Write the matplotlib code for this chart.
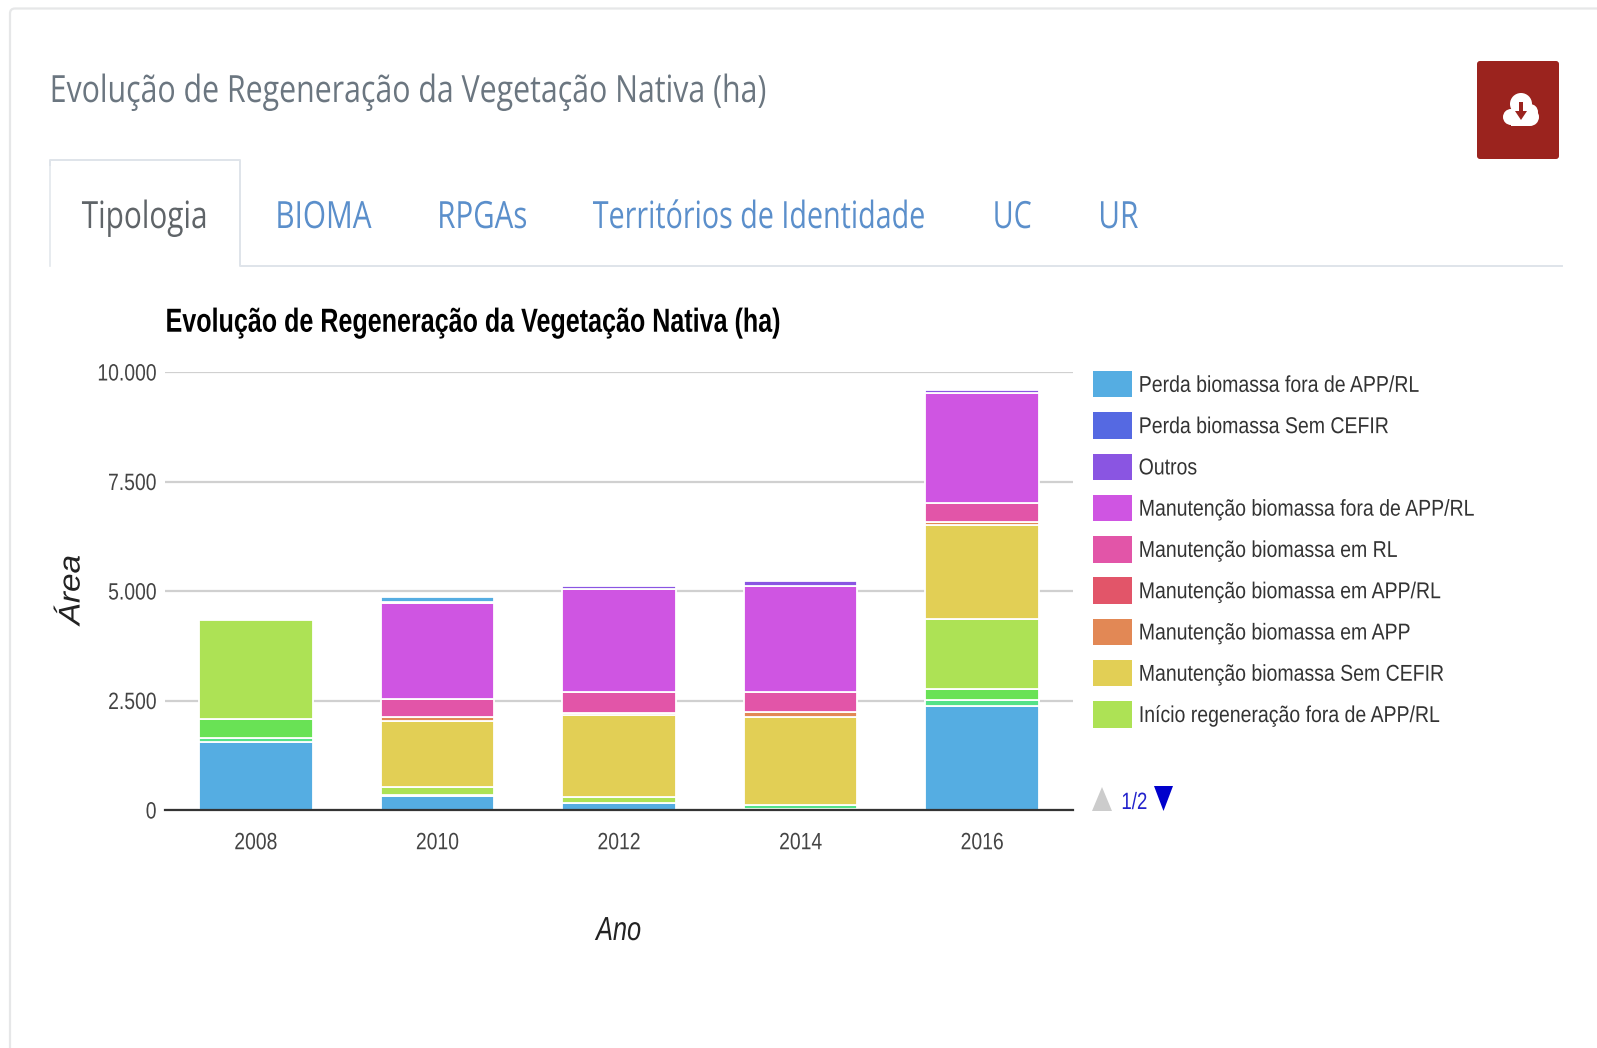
import matplotlib
matplotlib.use("Agg")
import matplotlib.pyplot as plt
import numpy as np
from matplotlib.patches import Rectangle, FancyBboxPatch, Circle, Polygon
from matplotlib.patheffects import AbstractPathEffect
from matplotlib.transforms import Affine2D, Bbox

W, H = 1597, 1048

anos = ["2008", "2010", "2012", "2014", "2016"]
serie_azul_base = [1560, 320, 150, 30, 2374]
serie_teal = [90, 0, 0, 75, 137]
serie_verde = [420, 20, 0, 0, 251]
inicio_fora = [2270, 185, 140, 0, 1591]
manut_sem_cefir = [0, 1510, 1880, 2025, 2153]
manut_app = [0, 95, 35, 115, 77]
manut_app_rl = [0, 0, 0, 0, 0]
manut_rl = [0, 400, 495, 455, 417]
manut_fora = [0, 2190, 2338, 2414, 2512]
outros = [0, 20, 70, 105, 70]
perda_sem_cefir = [0, 0, 0, 0, 0]
perda_fora = [0, 115, 0, 0, 0]

serie_valores = [serie_azul_base, serie_teal, serie_verde, inicio_fora, manut_sem_cefir,
                 manut_app, manut_app_rl, manut_rl, manut_fora, outros, perda_sem_cefir, perda_fora]
serie_cores = ["#55ADE2", "#55E288", "#69E255", "#ADE255", "#E2CF55", "#E28855",
               "#E25569", "#E255A8", "#CF55E2", "#8A55E2", "#5569E2", "#55ADE2"]

legenda_nomes = ["Perda biomassa fora de APP/RL", "Perda biomassa Sem CEFIR", "Outros",
                 "Manutenção biomassa fora de APP/RL", "Manutenção biomassa em RL",
                 "Manutenção biomassa em APP/RL", "Manutenção biomassa em APP",
                 "Manutenção biomassa Sem CEFIR", "Início regeneração fora de APP/RL"]
legenda_cores = ["#55ADE2", "#5569E2", "#8A55E2", "#CF55E2", "#E255A8", "#E25569",
                 "#E28855", "#E2CF55", "#ADE255"]

y_ticks = [0, 2500, 5000, 7500, 10000]
y_labels = ["0", "2.500", "5.000", "7.500", "10.000"]
abas = ["Tipologia", "BIOMA", "RPGAs", "Territórios de Identidade", "UC", "UR"]
titulo = "Evolução de Regeneração da Vegetação Nativa (ha)"

SANS = ["Liberation Sans"]
PAGE = ["Open Sans"]


class Squeeze(AbstractPathEffect):
    """Narrows a text horizontally, as in the horizontally squeezed screenshot."""
    def __init__(self, sx, pivot):
        super().__init__()
        self.sx, self.pivot = sx, pivot

    def draw_path(self, renderer, gc, tpath, affine, rgbFace=None):
        ext = tpath.transformed(affine).get_extents()
        x0 = {"left": ext.x0, "center": (ext.x0 + ext.x1) / 2, "right": ext.x1}[self.pivot]
        squeeze = Affine2D().translate(-x0, 0).scale(self.sx, 1).translate(x0, 0)
        renderer.draw_path(gc, tpath, affine + squeeze, rgbFace)


def squeeze(t, sx, pivot="left"):
    t.set_path_effects([Squeeze(sx, pivot)])
    orig = t.get_window_extent

    def extent(renderer=None, dpi=None):
        b = orig(renderer, dpi)
        x0 = {"left": b.x0, "center": (b.x0 + b.x1) / 2, "right": b.x1}[pivot]
        return Bbox.from_extents(x0 + (b.x0 - x0) * sx, b.y0, x0 + (b.x1 - x0) * sx, b.y1)
    t.get_window_extent = extent
    return t


fig = plt.figure(figsize=(W / 100, H / 100), dpi=100, facecolor="white")
rend = fig.canvas.get_renderer()


def fit(t, width_px, pivot="left"):
    return squeeze(t, width_px / t.get_window_extent(rend).width, pivot)


# page chrome, in pixel coordinates
bg = fig.add_axes([0, 0, 1, 1], zorder=0)
bg.set_xlim(0, W); bg.set_ylim(H, 0); bg.axis("off")
bg.add_patch(FancyBboxPatch((10, 8.5), W + 60, H + 60, boxstyle="round,pad=0,rounding_size=5",
                            fc="none", ec="#e6e7e8", lw=1.6))
fit(bg.text(49, 102, titulo, family=PAGE, fontsize=27, color="#6b7680", va="baseline"), 717)

bg.plot([50, 50], [266, 165], color="#e3e7ec", lw=1.2)
bg.plot([50, 50, 240, 240, 1562], [165, 160, 160, 266, 266], color="#dfe4ea", lw=1.4, solid_joinstyle="round")
tab_cx = [145, 323, 482, 759.5, 1012, 1118]
tab_w = [126, 96, 90, 333, 39, 40]
for i, (t, x, w) in enumerate(zip(abas, tab_cx, tab_w)):
    fit(bg.text(x, 228, t, family=PAGE, fontsize=27, ha="center",
                color="#5f6468" if i == 0 else "#5b8fcb", va="baseline"), w, "center")

bg.add_patch(FancyBboxPatch((1477, 61), 82, 98, boxstyle="round,pad=0,rounding_size=3",
                            fc="#9b231e", ec="none"))
for cx, cy, r in [(1521, 104, 11), (1511, 117, 8), (1530, 112, 8), (1530, 117, 9)]:
    bg.add_patch(Circle((cx, cy), r, fc="white", ec="none"))
bg.add_patch(Rectangle((1511, 110), 19, 16, fc="white", ec="none"))
bg.add_patch(Polygon([[1519, 102], [1523, 102], [1523, 111], [1527, 111], [1521, 120], [1515, 111], [1519, 111]],
                     fc="#9b231e", ec="none"))

# chart
ax = fig.add_axes([165 / W, (H - 810) / H, 908 / W, 438 / H], zorder=1)
ax.patch.set_alpha(0)
x = np.arange(len(anos))
base = np.zeros(len(anos))
for vals, cor in zip(serie_valores, serie_cores):
    v = np.array(vals, float)
    m = v > 0
    ax.bar(x[m], v[m], bottom=base[m], width=0.625, color=cor, edgecolor="white", linewidth=1.3, zorder=3)
    base += v

ax.set_xlim(-0.5, 4.5)
ax.set_ylim(0, 10000)
ax.set_xticks(x, anos)
ax.set_yticks(y_ticks, y_labels)
ax.grid(axis="y", color="#d0d0d0", lw=1.6, zorder=0)
ax.set_axisbelow(True)
for s in ["left", "right", "top"]:
    ax.spines[s].set_visible(False)
ax.spines["bottom"].set_color("#333333")
ax.spines["bottom"].set_linewidth(1.6)
ax.spines["bottom"].set_zorder(5)
ax.tick_params(axis="both", length=0, labelcolor="#444444", labelsize=17)
ax.tick_params(axis="y", pad=6)
ax.tick_params(axis="x", pad=16)
for lab in ax.get_xticklabels():
    lab.set_family(SANS)
    squeeze(lab, 0.82, "center")
for lab in ax.get_yticklabels():
    lab.set_family(SANS)
    squeeze(lab, 0.82, "right")

tt = ax.set_title(titulo, loc="left", family=SANS, fontweight="bold", fontsize=24, color="black", pad=29)
fit(tt, 616)
xl = ax.set_xlabel("Ano", family=SANS, style="italic", fontsize=24, color="#222222")
ax.xaxis.set_label_coords(0.5, -(916 - 810) / 438)
squeeze(xl, 0.76, "center")
yl = ax.set_ylabel("Área", family=SANS, style="italic", fontsize=24, color="#222222")
ax.yaxis.set_label_coords((88 - 165) / 908, (810 - 590) / 438)
squeeze(yl, 0.9, "center")

handles = [Rectangle((0, 0), 1, 1, fc=c, ec="none") for c in legenda_cores]
fs = 16.5
px = fs * 100 / 72
leg = ax.legend(handles, legenda_nomes, loc="upper left",
                bbox_to_anchor=(1093 / W, (H - 371) / H), bbox_transform=fig.transFigure,
                frameon=False, prop={"family": SANS, "size": fs},
                borderaxespad=0, borderpad=0, handlelength=39 / px, handleheight=1.40,
                handletextpad=6.5 / px, labelspacing=14.8 / px, labelcolor="#333333")
for t in leg.get_texts():
    squeeze(t, 0.85, "left")

# legend pager
bg.add_patch(Polygon([[1092, 811], [1112, 811], [1102, 787]], fc="#cccccc", ec="none"))
bg.add_patch(Polygon([[1154, 786], [1173, 786], [1163.5, 811]], fc="#0000cc", ec="none"))
fit(bg.text(1121, 809, "1/2", family=SANS, fontsize=17, color="#2222cc", va="baseline"), 26)

fig.savefig("out.png", dpi=100, facecolor="white")
